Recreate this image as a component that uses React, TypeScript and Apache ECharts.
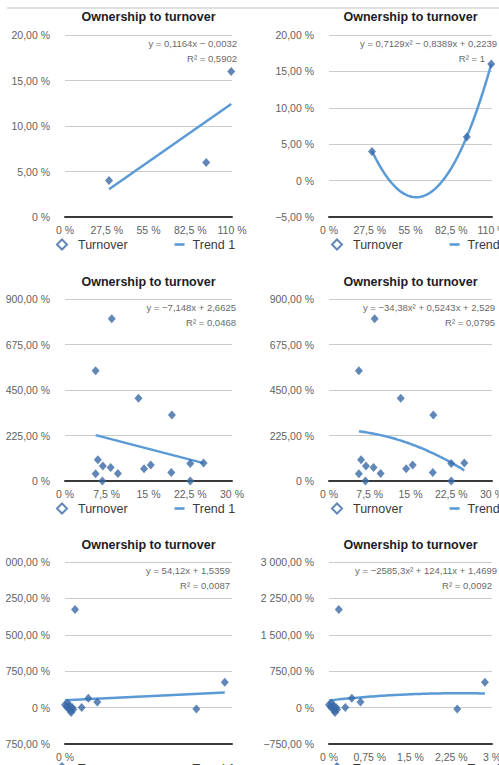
import React, { useEffect, useRef } from "react";
import * as echarts from "echarts";

const TITLE = "Ownership to turnover";
const POINTS_NAME = "Turnover";
const TREND_NAME = "Trend 1";

// Row 1: ownership (%) and turnover (%)
const ownershipSmall = [29, 93, 109.5];
const turnoverSmall = [4, 6, 16];

// Row 2
const ownershipMid = [8.4, 5.5, 13.2, 19.2, 5.9, 6.8, 8.2, 5.5, 9.5, 6.7, 14.2, 15.4, 19.1, 22.5, 22.5, 24.9];
const turnoverMid = [802, 545, 409, 326, 105, 74, 67, 36, 37, 0, 61, 79, 42, 86, 0, 89];

// Row 3
const ownershipWide = [0.18, 2.87, 0.42, 0.58, 0.3, 2.36, 0, 0.03, 0.05, 0.06, 0.08, 0.1, 0.11, 0.13, 0.15];
const turnoverWide = [2023, 520, 195, 113, 2, -31, 60, 20, 90, -20, 40, -60, -100, 0, -40];

// Trend-line coefficients (highest power first, fractional units)
const fitSmallLinear = [0.1164, -0.0032];
const fitSmallQuad = [0.7129, -0.8389, 0.2239];
const fitMidLinear = [-7.148, 2.6625];
const fitMidQuad = [-34.38, 0.5243, 2.529];
const fitWideLinear = [54.12, 1.5359];
const fitWideQuad = [-2585.3, 124.11, 1.4699];
const rSquared = [0.5902, 1, 0.0468, 0.0795, 0.0087, 0.0092];

// Axis ticks (%)
const xTicksSmall = [0, 27.5, 55, 82.5, 110];
const xTicksMid = [0, 7.5, 15, 22.5, 30];
const xTicksWide = [0, 0.75, 1.5, 2.25, 3];
const yTicksSmallLinear = [0, 5, 10, 15, 20];
const yTicksSmallQuad = [-5, 0, 5, 10, 15, 20];
const yTicksMid = [0, 225, 450, 675, 900];
const yTicksWide = [-750, 0, 750, 1500, 2250, 3000];

const FONT = "'Liberation Sans', Arial, Helvetica, sans-serif";
const POINT_COLOR = "#3869a6";
const TREND_COLOR = "#5a9ad6";
const LABEL_COLOR = "#5f5f5f";
const LINE_ICON = "path://M0,0L10,0L10,2.6L0,2.6Z";

// The drawing surface starts a few pixels in from the page edge
const VIEW_LEFT = 6;
const VIEW_WIDTH = 499 - VIEW_LEFT;
const VIEW_HEIGHT = 765;

const panels = [
  { xs: ownershipSmall, ys: turnoverSmall, fit: fitSmallLinear, r2: rSquared[0], xTicks: xTicksSmall, yTicks: yTicksSmallLinear, col: 0, row: 0, eqX: 237, eqAlign: "right", r2X: 237, xLabels: true },
  { xs: ownershipSmall, ys: turnoverSmall, fit: fitSmallQuad, r2: rSquared[1], xTicks: xTicksSmall, yTicks: yTicksSmallQuad, col: 1, row: 0, eqX: 360, eqAlign: "left", r2X: 485, xLabels: true },
  { xs: ownershipMid, ys: turnoverMid, fit: fitMidLinear, r2: rSquared[2], xTicks: xTicksMid, yTicks: yTicksMid, col: 0, row: 1, eqX: 236, eqAlign: "right", r2X: 236, xLabels: true },
  { xs: ownershipMid, ys: turnoverMid, fit: fitMidQuad, r2: rSquared[3], xTicks: xTicksMid, yTicks: yTicksMid, col: 1, row: 1, eqX: 495, eqAlign: "right", r2X: 495, xLabels: true },
  { xs: ownershipWide, ys: turnoverWide, fit: fitWideLinear, r2: rSquared[4], xTicks: xTicksWide, yTicks: yTicksWide, col: 0, row: 2, eqX: 230, eqAlign: "right", r2X: 230, xLabels: false },
  { xs: ownershipWide, ys: turnoverWide, fit: fitWideQuad, r2: rSquared[5], xTicks: xTicksWide, yTicks: yTicksWide, col: 1, row: 2, eqX: 497, eqAlign: "right", r2X: 492, xLabels: true },
];

// page-space positions
const COLS = [
  { left: 65, width: 167, legendX: 56 },
  { left: 329, width: 163, legendX: 331 },
];
const ROWS = [
  { top: 35, height: 182, titleY: 17, legendY: 238 },
  { top: 299, height: 182, titleY: 281.5, legendY: 502 },
  { top: 562, height: 182, titleY: 544.5, legendY: 762 },
];

const polyAt = (coef: number[], x: number) => coef.reduce((acc, c) => acc * x + c, 0);

function trendPoints(xs: number[], coef: number[]) {
  const lo = Math.min(...xs);
  const hi = Math.max(...xs);
  const steps = coef.length > 2 ? 60 : 1;
  const pts: number[][] = [];
  for (let i = 0; i <= steps; i++) {
    const xp = lo + ((hi - lo) * i) / steps;
    pts.push([xp, polyAt(coef, xp / 100) * 100]);
  }
  return pts;
}

const num = (v: number) => String(Math.abs(v)).replace(".", ",");

function equationText(coef: number[]) {
  const deg = coef.length - 1;
  let s = "y = ";
  coef.forEach((c, i) => {
    const p = deg - i;
    const term = num(c) + (p === 2 ? "x²" : p === 1 ? "x" : "");
    if (i === 0) s += (c < 0 ? "−" : "") + term;
    else s += (c < 0 ? " − " : " + ") + term;
  });
  return s;
}

function yLabel(v: number) {
  if (v === 0) return "0 %";
  const [int, dec] = Math.abs(v).toFixed(2).split(".");
  const grouped = int.replace(/\B(?=(\d{3})+(?!\d))/g, " ");
  return (v < 0 ? "−" : "") + grouped + "," + dec + " %";
}

function xLabel(v: number) {
  if (v === 0) return "0 %";
  return String(Number(v.toFixed(4))).replace(".", ",") + " %";
}

function buildOption() {
  const X = (px: number) => px - VIEW_LEFT;
  const grid: any[] = [];
  const xAxis: any[] = [];
  const yAxis: any[] = [];
  const series: any[] = [];
  const legend: any[] = [];
  const graphic: any[] = [
    { type: "line", shape: { x1: X(7), y1: 8, x2: X(499), y2: 8 }, style: { stroke: "#d6d6d6", lineWidth: 1.5 } },
  ];

  panels.forEach((p, i) => {
    const c = COLS[p.col];
    const r = ROWS[p.row];
    grid.push({
      left: X(c.left),
      top: r.top,
      width: c.width,
      height: r.height,
      containLabel: false,
      outerBoundsMode: "none",
    });
    xAxis.push({
      type: "value",
      gridIndex: i,
      min: p.xTicks[0],
      max: p.xTicks[p.xTicks.length - 1],
      interval: p.xTicks[1] - p.xTicks[0],
      axisLine: { show: true, onZero: false, lineStyle: { color: "#3a3a3a", width: 2 } },
      axisTick: { show: false },
      splitLine: { show: false },
      axisLabel: {
        fontSize: 10.5,
        fontFamily: FONT,
        color: LABEL_COLOR,
        margin: 7,
        formatter: (v: number) => (p.xLabels || v === 0 ? xLabel(v) : ""),
      },
    });
    yAxis.push({
      type: "value",
      gridIndex: i,
      min: p.yTicks[0],
      max: p.yTicks[p.yTicks.length - 1],
      interval: p.yTicks[1] - p.yTicks[0],
      axisLine: { show: false },
      axisTick: { show: false },
      splitLine: { show: true, lineStyle: { color: "#cbcbcb", width: 1.2 } },
      axisLabel: { fontSize: 10.5, fontFamily: FONT, color: LABEL_COLOR, margin: 15, formatter: yLabel },
    });
    series.push({
      name: POINTS_NAME,
      type: "scatter",
      xAxisIndex: i,
      yAxisIndex: i,
      symbol: "diamond",
      symbolSize: [8, 9],
      itemStyle: { color: POINT_COLOR },
      data: p.xs.map((x, j) => [x, p.ys[j]]),
      z: 3,
    });
    series.push({
      name: TREND_NAME,
      type: "line",
      xAxisIndex: i,
      yAxisIndex: i,
      symbol: "none",
      showSymbol: false,
      smooth: false,
      lineStyle: { color: TREND_COLOR, width: 2.5 },
      itemStyle: { color: TREND_COLOR },
      data: trendPoints(p.xs, p.fit),
      z: 2,
    });
    legend.push({
      left: X(c.legendX),
      top: r.legendY,
      width: 400,
      padding: 0,
      itemWidth: 10,
      itemHeight: 10,
      itemGap: 47,
      textStyle: { fontSize: 12.5, fontFamily: FONT, color: "#3a3a3a" },
      data: [
        { name: POINTS_NAME, icon: "emptyDiamond", textStyle: { padding: [0, 0, 0, 6] } },
        { name: TREND_NAME, icon: LINE_ICON, itemStyle: { color: TREND_COLOR }, textStyle: { padding: [0, 0, 0, 3] } },
      ],
    });
    // chart title
    graphic.push({
      type: "text",
      x: X(c.left + c.width / 2),
      y: r.titleY,
      style: {
        text: TITLE,
        font: `bold 12.5px ${FONT}`,
        fill: "#1c1c28",
        align: "center",
        verticalAlign: "middle",
      },
    });
    // trendline equation and R²
    graphic.push({
      type: "text",
      x: X(p.eqX),
      y: r.top + 8.5,
      style: {
        text: equationText(p.fit),
        font: `9.5px ${FONT}`,
        fill: "#6a6a6a",
        align: p.eqAlign,
        verticalAlign: "middle",
      },
    });
    graphic.push({
      type: "text",
      x: X(p.r2X),
      y: r.top + 23.5,
      style: {
        text: "R² = " + num(p.r2),
        font: `9.5px ${FONT}`,
        fill: "#6a6a6a",
        align: "right",
        verticalAlign: "middle",
      },
    });
  });

  return {
    animation: false,
    backgroundColor: "#ffffff",
    grid,
    xAxis,
    yAxis,
    series,
    legend,
    graphic,
  };
}

export default function App() {
  const ref = useRef<HTMLDivElement>(null);
  useEffect(() => {
    if (!ref.current) return;
    const chart = echarts.init(ref.current, undefined, { renderer: "svg" });
    chart.setOption(buildOption() as any);
    return () => chart.dispose();
  }, []);
  return (
    <div
      ref={ref}
      style={{
        position: "absolute",
        left: VIEW_LEFT,
        top: 0,
        width: VIEW_WIDTH,
        height: VIEW_HEIGHT,
        overflow: "hidden",
        background: "#fff",
      }}
    />
  );
}
